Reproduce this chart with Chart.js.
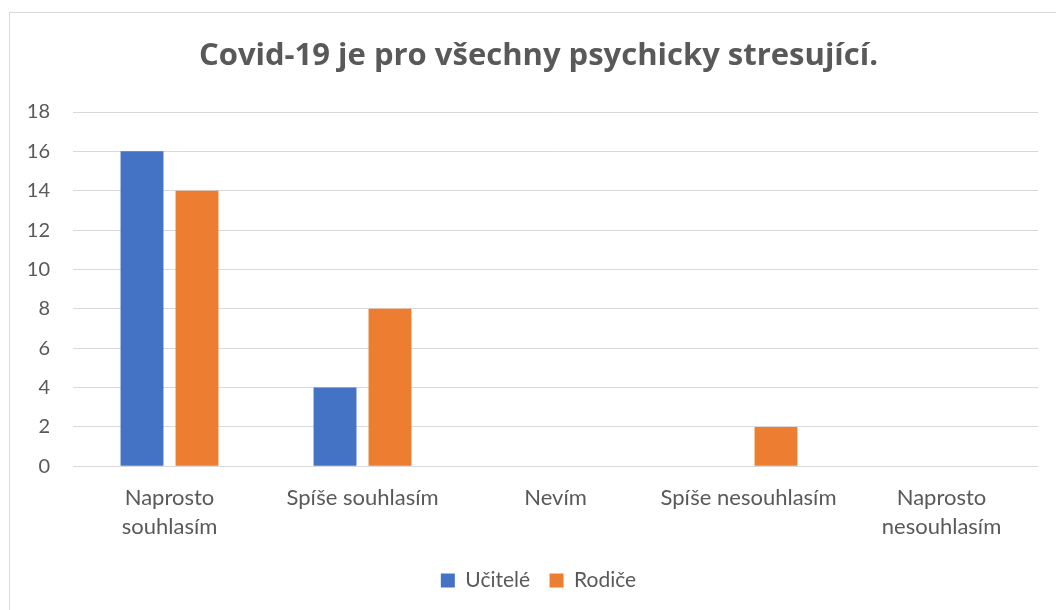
<!DOCTYPE html>
<html>
<head>
<meta charset="utf-8">
<script src="https://cdn.jsdelivr.net/npm/chart.js@4"></script>
<style>
  html, body { margin: 0; padding: 0; background: #fff; overflow: hidden; }
  #wrap { position: relative; width: 1056px; height: 610px; }
  #frame { position: absolute; left: 9px; top: 12px; width: 1100px; height: 700px; border: 1px solid #d9d9d9; }
  canvas { position: absolute; left: 0; top: 0; }
</style>
</head>
<body>
<div id="wrap">
  <div id="frame"></div>
  <canvas id="chart1" width="1056" height="610"></canvas>
</div>
<script>
// kategorie a hodnoty z grafu
const categories = [
    ['Naprosto', 'souhlasím'],
    'Spíše souhlasím',
    'Nevím',
    'Spíše nesouhlasím',
    ['Naprosto', 'nesouhlasím']
];
const ucitele = [16, 4, 0, 0, 0];
const rodice = [14, 8, 0, 2, 0];
const yTicks = [0, 2, 4, 6, 8, 10, 12, 14, 16, 18];

const textColor = '#595959';
const fontFamily = 'Lato, "Open Sans", sans-serif';

const ctx = document.getElementById('chart1').getContext('2d');
new Chart(ctx, {
    type: 'bar',
    data: {
        labels: categories,
        datasets: [{
            label: 'Učitelé',
            data: ucitele,
            backgroundColor: '#4472C4',
            borderWidth: 0
        }, {
            label: 'Rodiče',
            data: rodice,
            backgroundColor: '#ED7D31',
            borderWidth: 0
        }]
    },
    options: {
        responsive: false,
        animation: false,
        categoryPercentage: 0.57,
        barPercentage: 0.78,
        layout: {
            padding: { left: 21, right: 0, top: 0, bottom: 9 }
        },
        plugins: {
            title: {
                display: true,
                text: 'Covid-19 je pro všechny psychicky stresující.',
                color: textColor,
                font: { family: '"Open Sans", Lato, sans-serif', size: 31, weight: 'bold' },
                padding: { top: 37.5, bottom: 37.3 }
            },
            legend: {
                position: 'bottom',
                labels: {
                    color: textColor,
                    font: { family: fontFamily, size: 21 },
                    boxWidth: 14,
                    boxHeight: 14,
                    padding: 19.5
                }
            },
            tooltip: { enabled: false }
        },
        scales: {
            x: {
                grid: { display: false },
                border: { display: false },
                ticks: {
                    color: textColor,
                    font: { family: fontFamily, size: 22, lineHeight: 1.3 },
                    padding: 9.5,
                    maxRotation: 0,
                    autoSkip: false
                }
            },
            y: {
                min: 0,
                max: 18,
                afterFit: function (scale) { scale.width = 52; },
                afterBuildTicks: function (scale) {
                    scale.ticks = yTicks.map(v => ({ value: v }));
                },
                grid: { color: '#d9d9d9', lineWidth: 1, drawTicks: false },
                border: { display: false },
                ticks: {
                    color: textColor,
                    font: { family: fontFamily, size: 20 },
                    padding: 23
                }
            },
            // prazdna osa vpravo jen kvuli odsazeni
            y2: {
                position: 'right',
                display: true,
                afterFit: function (scale) { scale.width = 18; },
                grid: { display: false, drawTicks: false },
                border: { display: false },
                ticks: { display: false }
            }
        }
    }
});
</script>
</body>
</html>
